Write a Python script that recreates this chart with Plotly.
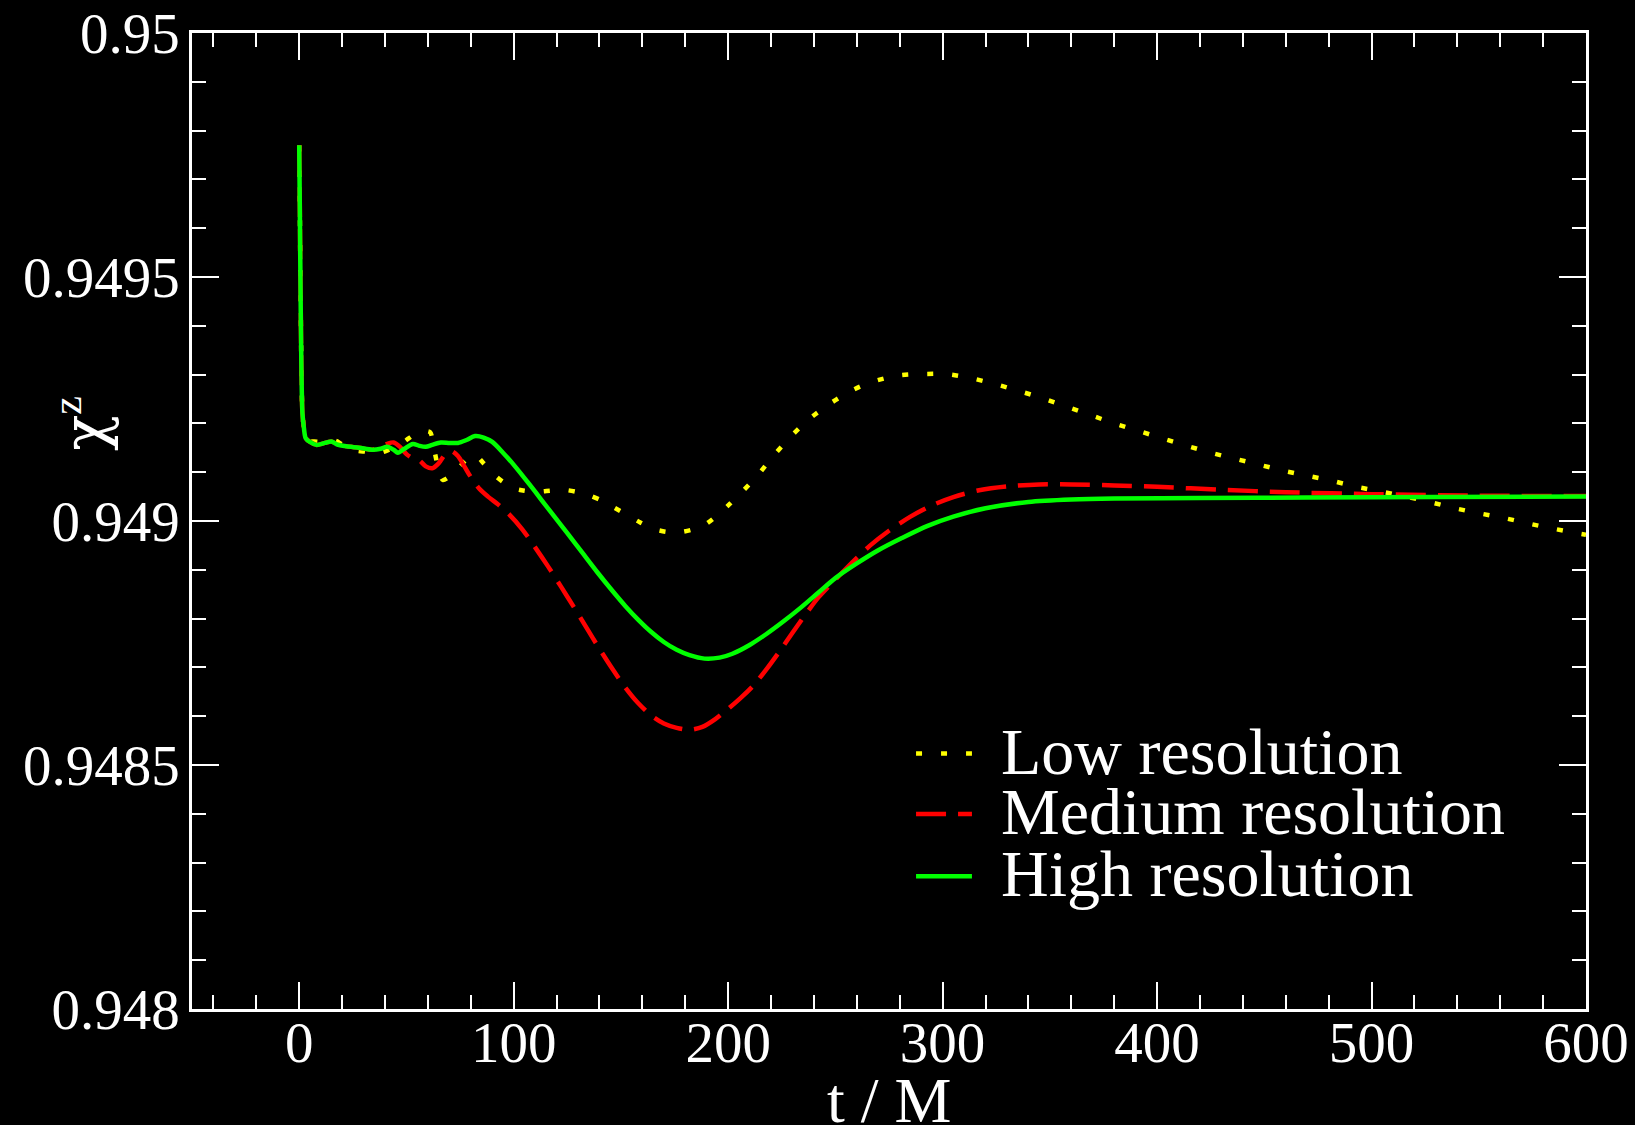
import plotly.graph_objects as go

# Spin component chi^z vs time for three grid resolutions
t_low = [0, 0.3, 0.6, 1.0, 1.5, 2.2, 3, 5, 7, 10, 13, 16.5, 20, 24, 27, 31, 35, 38, 42, 46,
         50, 54, 58, 61, 63, 65, 67, 69, 72, 75, 78, 82, 86, 90, 95, 100, 105, 111, 117, 123,
         129, 135, 141, 147, 153, 159, 165, 171, 177, 183, 189, 195, 201, 207, 214, 221, 229,
         237, 247, 257, 267, 279, 290, 302, 314, 325, 336, 347, 358, 369, 380, 391, 402, 414,
         425, 436, 448, 459, 471, 482, 493, 505, 517, 528, 539, 550, 562, 573, 584, 596, 600]
chi_low = [0.94977, 0.94963, 0.94948, 0.94932, 0.94922, 0.94919, 0.94917, 0.949163, 0.949163,
           0.949162, 0.949163, 0.949165, 0.949157, 0.949148, 0.949144, 0.949142, 0.94914,
           0.94914, 0.949146, 0.949153, 0.949166, 0.949178, 0.949184, 0.949182, 0.949145,
           0.949105, 0.949084, 0.949088, 0.9491, 0.949112, 0.949126, 0.949135, 0.949118,
           0.949098, 0.94908, 0.949067, 0.949062, 0.94906, 0.949062, 0.949064, 0.94906,
           0.949053, 0.949042, 0.949027, 0.949012, 0.948997, 0.948984, 0.948978, 0.948977,
           0.948982, 0.948992, 0.949012, 0.949036, 0.949062, 0.949095, 0.949133, 0.949172,
           0.949206, 0.949239, 0.949266, 0.949285, 0.949298, 0.949301, 0.949301, 0.949292,
           0.94928, 0.949266, 0.949251, 0.949234, 0.949217, 0.9492, 0.949185, 0.94917,
           0.949154, 0.94914, 0.949128, 0.949115, 0.949103, 0.949092, 0.949082, 0.94907,
           0.94906, 0.949049, 0.949038, 0.949026, 0.949016, 0.949006, 0.948995, 0.948985,
           0.948975, 0.948972]

t_med = [0, 0.3, 0.6, 1.0, 1.5, 2.2, 3, 5, 8, 12, 15, 17.5, 22, 28, 34, 38, 41, 44, 47, 50,
         53, 56, 59, 62, 65, 68, 71, 74, 77, 80, 84, 88, 93, 98, 104, 110, 116, 122, 128, 134,
         140, 146, 152, 158, 164, 170, 176, 182, 188, 194, 200, 206, 212, 218, 224, 230, 236,
         242, 250, 258, 266, 275, 285, 295, 305, 317, 330, 345, 360, 380, 400, 430, 460, 500,
         550, 600]
chi_med = [0.94977, 0.94963, 0.94948, 0.94932, 0.94922, 0.94919, 0.94917, 0.949162, 0.949156,
           0.94916, 0.949163, 0.949157, 0.949153, 0.94915, 0.949146, 0.949152, 0.949158,
           0.949161, 0.949152, 0.949137, 0.949128, 0.949124, 0.949112, 0.949108, 0.949118,
           0.949136, 0.949143, 0.949133, 0.949112, 0.94909, 0.949066, 0.94905, 0.949033,
           0.949013, 0.948983, 0.948946, 0.948907, 0.948866, 0.948824, 0.948781, 0.948738,
           0.948697, 0.948659, 0.948627, 0.948602, 0.948585, 0.948576, 0.948572, 0.948578,
           0.948594, 0.948615, 0.948638, 0.948664, 0.948697, 0.948733, 0.948771, 0.948808,
           0.948843, 0.94888, 0.948916, 0.948949, 0.94898, 0.949009, 0.949032, 0.949049,
           0.949063, 0.949071, 0.949075, 0.949075, 0.949073, 0.94907, 0.949064, 0.949059,
           0.949055, 0.949052, 0.949051]

t_high = [0, 0.3, 0.6, 1.0, 1.5, 2.2, 3, 5, 8, 12, 15, 17.5, 22, 28, 34, 38, 41, 44, 46, 49,
          53, 56, 59, 62, 66, 70, 74, 78, 82, 86, 90, 95, 101, 107, 113, 119, 125, 132, 139,
          146, 152, 158, 164, 170, 176, 182, 189, 196, 202, 210, 218, 226, 234, 242, 250, 260,
          270, 281, 293, 305, 320, 340, 360, 380, 420, 470, 530, 600]
chi_high = [0.94977, 0.94963, 0.94948, 0.94932, 0.94922, 0.94919, 0.94917, 0.949162, 0.949156,
            0.94916, 0.949163, 0.949157, 0.949153, 0.94915, 0.949146, 0.949148, 0.949152,
            0.949146, 0.94914, 0.949148, 0.949158, 0.949154, 0.949152, 0.949156, 0.949161,
            0.94916, 0.94916, 0.949166, 0.949174, 0.949171, 0.949162, 0.94914, 0.94911,
            0.949077, 0.949043, 0.949009, 0.948975, 0.948935, 0.948895, 0.948857, 0.948826,
            0.948798, 0.948773, 0.948752, 0.948736, 0.948725, 0.948718, 0.94872, 0.948728,
            0.948746, 0.948769, 0.948795, 0.948823, 0.948853, 0.948883, 0.948913, 0.94894,
            0.948965, 0.94899, 0.949009, 0.949026, 0.949039, 0.949044, 0.949046, 0.949047,
            0.949048, 0.949049, 0.94905]

series_names = ["Low resolution", "Medium resolution", "High resolution"]
series_colors = ["#ffff00", "#ff0000", "#00ff00"]
series_dash = ["6px,19px", "30px,12px", "solid"]

x_tick_vals = [0, 100, 200, 300, 400, 500, 600]
x_tick_text = ["0", "100", "200", "300", "400", "500", "600"]
y_tick_vals = [0.948, 0.9485, 0.949, 0.9495, 0.95]
y_tick_text = ["0.948", "0.9485", "0.949", "0.9495", "0.95"]

FONT = "Liberation Serif"

fig = go.Figure()
for t, chi, name, color, dash in zip([t_low, t_med, t_high], [chi_low, chi_med, chi_high],
                                     series_names, series_colors, series_dash):
    fig.add_trace(go.Scatter(x=t, y=chi, mode="lines", name=name, showlegend=False,
                             line=dict(color=color, width=4.5, dash=dash, shape="spline",
                                       smoothing=0.8)))

axis_common = dict(
    showgrid=False, zeroline=False, showline=True, linecolor="white", linewidth=2.5,
    mirror="allticks", ticks="inside", ticklen=27, tickwidth=2, tickcolor="white",
    tickfont=dict(family=FONT, size=57, color="white"), tickmode="array",
    automargin=False,
)

fig.update_xaxes(range=[-50, 600], tickvals=x_tick_vals, ticktext=x_tick_text,
                 ticklabelstandoff=-18,
                 minor=dict(ticks="inside", ticklen=14, tickwidth=2, tickcolor="white",
                            tickmode="linear", tick0=0, dtick=20),
                 **axis_common)
fig.update_yaxes(range=[0.948, 0.95], tickvals=y_tick_vals, ticktext=y_tick_text,
                 ticklabelstandoff=-2,
                 minor=dict(ticks="inside", ticklen=14, tickwidth=2, tickcolor="white",
                            tickmode="linear", tick0=0.948, dtick=0.0001),
                 **axis_common)

# Legend built from line samples and labels
legend_x0, legend_x1, legend_text_x = 0.5194, 0.5595, 0.5790
legend_line_rows = [0.2618, 0.1998, 0.1360]
legend_text_rows = [0.2643, 0.2023, 0.1385]
for name, color, dash, ly, ty in zip(series_names, series_colors, series_dash,
                                     legend_line_rows, legend_text_rows):
    fig.add_shape(type="line", xref="paper", yref="paper", x0=legend_x0, x1=legend_x1,
                  y0=ly, y1=ly, line=dict(color=color, width=4.5, dash=dash))
    fig.add_annotation(xref="paper", yref="paper", x=legend_text_x, y=ty, text=name,
                       showarrow=False, xanchor="left", yanchor="middle",
                       font=dict(family=FONT, size=66, color="white"))

# Axis titles
fig.add_annotation(xref="paper", yref="paper", x=0.5, y=-0.0937, text="t / M",
                   showarrow=False, xanchor="center", yanchor="middle",
                   font=dict(family=FONT, size=64, color="white"))
fig.add_annotation(xref="paper", yref="paper", x=-0.0789, y=0.5994,
                   text="<span style=\"font-family:'DejaVu Serif'\">χ</span><sup>z</sup>",
                   showarrow=False, xanchor="center", yanchor="middle", textangle=-90,
                   font=dict(family=FONT, size=60, color="white"))

fig.update_layout(
    width=1635, height=1125,
    margin=dict(l=192, r=49, t=33, b=116),
    paper_bgcolor="black", plot_bgcolor="black",
    showlegend=False,
)

fig.write_html("out.html")
